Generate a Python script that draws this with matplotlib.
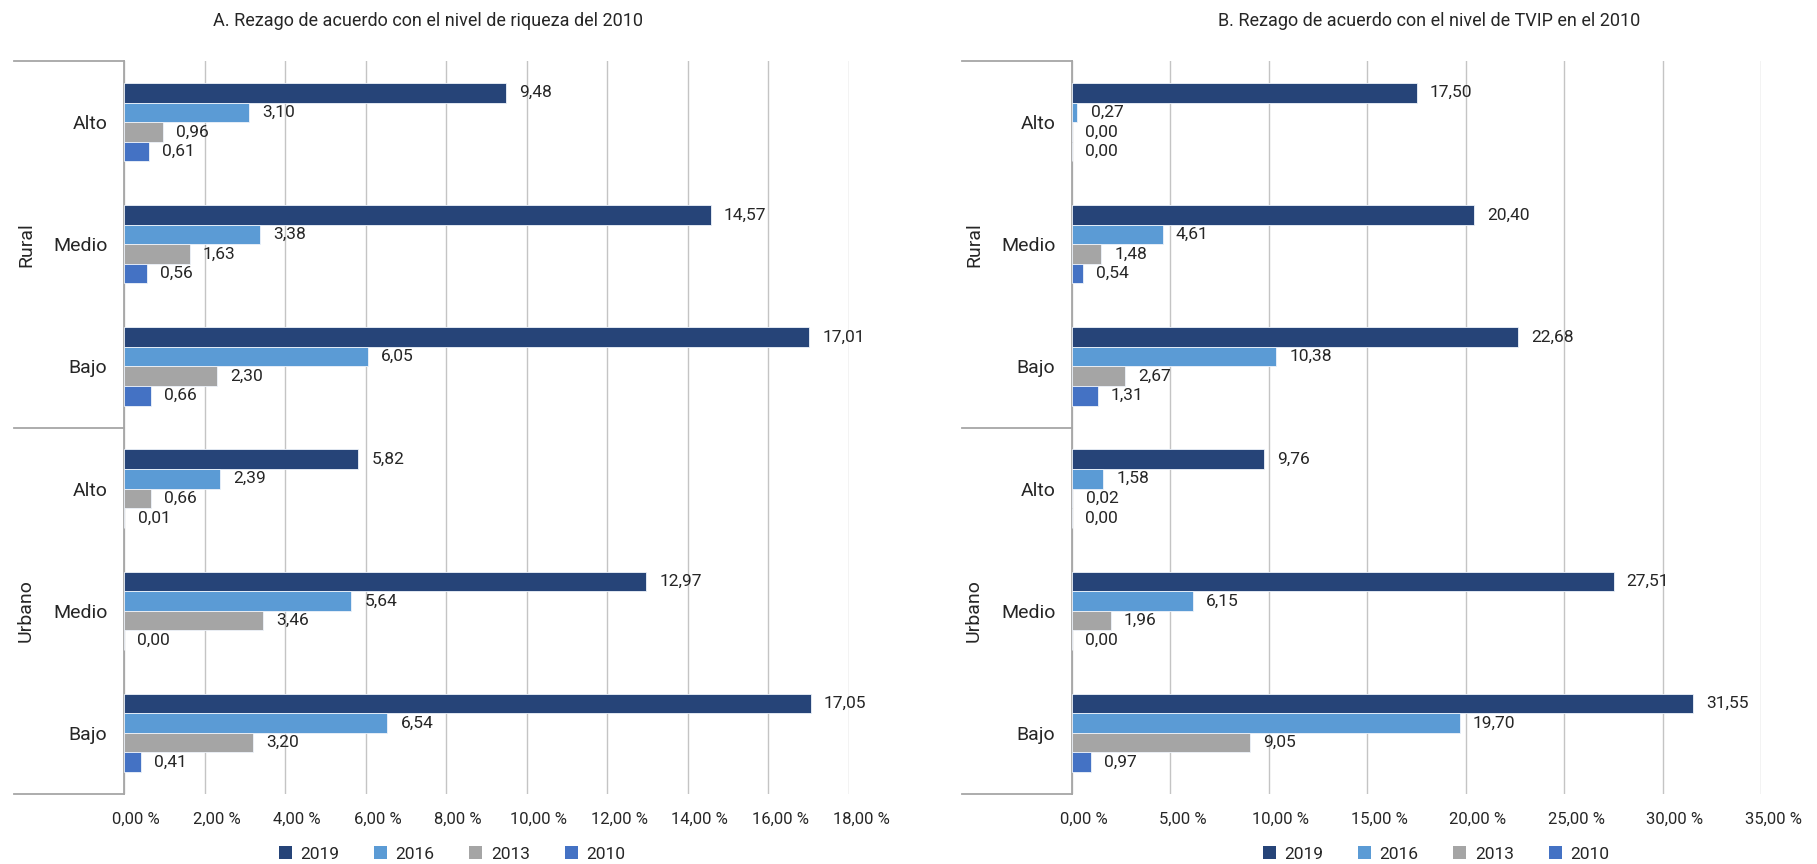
#!/usr/bin/env python3
"""Rezago por zona y nivel: dos paneles de barras horizontales agrupadas."""

import matplotlib

matplotlib.use("Agg")

from matplotlib import pyplot as plt
from matplotlib.patches import Patch
from matplotlib.ticker import FuncFormatter, MultipleLocator
from matplotlib.transforms import ScaledTranslation
import numpy as np

plt.rcParams["font.family"] = ["Roboto", "DejaVu Sans"]

# categorías de arriba hacia abajo
ZONES = ["Rural", "Urbano"]
LEVELS = ["Alto", "Medio", "Bajo"]
YEARS = ["2019", "2016", "2013", "2010"]
YEAR_COLORS = ["#264478", "#5b9bd5", "#a5a5a5", "#4472c4"]

# panel A: nivel de riqueza (filas = Rural Alto..Urbano Bajo)
riqueza_2019 = [9.48, 14.57, 17.01, 5.82, 12.97, 17.05]
riqueza_2016 = [3.10, 3.38, 6.05, 2.39, 5.64, 6.54]
riqueza_2013 = [0.96, 1.63, 2.30, 0.66, 3.46, 3.20]
riqueza_2010 = [0.61, 0.56, 0.66, 0.01, 0.00, 0.41]

# panel B: nivel de TVIP
tvip_2019 = [17.50, 20.40, 22.68, 9.76, 27.51, 31.55]
tvip_2016 = [0.27, 4.61, 10.38, 1.58, 6.15, 19.70]
tvip_2013 = [0.00, 1.48, 2.67, 0.02, 1.96, 9.05]
tvip_2010 = [0.00, 0.54, 1.31, 0.00, 0.00, 0.97]

TITLE_A = "A. Rezago de acuerdo con el nivel de riqueza del 2010"
TITLE_B = "B. Rezago de acuerdo con el nivel de TVIP en el 2010"

W, H = 1817, 864
TEXT = "#262626"
LINE = "#a6a6a6"
GRID = "#c4c4c4"


def comma(value, decimals=2):
    return f"{value:.{decimals}f}".replace(".", ",")


def draw_panel(fig, rect, series, xmax, step, title, title_x, legend_x):
    ax = fig.add_axes(rect)
    n_rows = len(series[0])
    centers = np.arange(n_rows)
    bar_h = 0.16
    offsets = (np.arange(len(series)) - (len(series) - 1) / 2) * bar_h

    for values, off, color in zip(series, offsets, YEAR_COLORS):
        ys = centers + off
        ax.barh(ys, values, height=bar_h, color=color, edgecolor="#eef3fa", linewidth=0.6, zorder=3)
        for y, v in zip(ys, values):
            ax.annotate(comma(v), (v, y), xytext=(9.5, 0), textcoords="offset points",
                        va="center", ha="left", fontsize=12.5, color=TEXT, zorder=4)

    ax.set_xlim(0, xmax)
    ax.set_ylim(n_rows - 0.5, -0.5)
    ax.xaxis.set_major_locator(MultipleLocator(step))
    ax.xaxis.set_major_formatter(FuncFormatter(lambda v, _: comma(v) + " %"))
    ax.grid(axis="x", color=GRID, linewidth=1.0, zorder=0)
    ax.tick_params(axis="x", length=0, pad=13, labelsize=12, labelcolor=TEXT)
    ax.tick_params(axis="y", length=0, pad=12, labelsize=14, labelcolor=TEXT)
    ax.set_yticks(centers)
    ax.set_yticklabels(LEVELS * len(ZONES))
    for spine in ("top", "right", "bottom"):
        ax.spines[spine].set_visible(False)
    ax.spines["left"].set_color(LINE)
    ax.spines["left"].set_linewidth(1.3)

    # desplaza un poco las etiquetas del eje x a la derecha
    shift = ScaledTranslation(12 / 100, 0, fig.dpi_scale_trans)
    for lbl in ax.get_xticklabels():
        lbl.set_transform(lbl.get_transform() + shift)

    # líneas de agrupación y etiquetas de zona a la izquierda
    ax_w_px = rect[2] * W
    reach = -110 / ax_w_px
    trans = ax.get_yaxis_transform()
    for yb in (-0.5, 2.5, 5.5):
        ax.plot([reach, 0], [yb, yb], transform=trans, color=LINE, lw=1.3, clip_on=False)
    for i, zone in enumerate(ZONES):
        ax.text(-98 / ax_w_px, 1 + 3 * i, zone, transform=trans, rotation=90,
                ha="center", va="center", fontsize=14, color=TEXT)

    fig.text(title_x / W, 1 - 21 / H, title, ha="center", va="center", fontsize=13, color=TEXT)

    handles = [Patch(facecolor=c, edgecolor="none") for c in YEAR_COLORS]
    fig.legend(handles, YEARS, loc="center", bbox_to_anchor=(legend_x / W, 1 - 854 / H),
               ncol=4, frameon=False, fontsize=12.5, handlelength=0.75, handleheight=0.75,
               handletextpad=0.5, columnspacing=2.0, labelcolor=TEXT)
    return ax


fig = plt.figure(figsize=(W / 100, H / 100), dpi=100)
fig.patch.set_facecolor("white")

bottom = 1 - 794 / H
height = (794 - 61) / H

draw_panel(fig, [124 / W, bottom, (849 - 124) / W, height],
           [riqueza_2019, riqueza_2016, riqueza_2013, riqueza_2010],
           18, 2, TITLE_A, 428, 452)
draw_panel(fig, [1072 / W, bottom, (1761 - 1072) / W, height],
           [tvip_2019, tvip_2016, tvip_2013, tvip_2010],
           35, 5, TITLE_B, 1429, 1436)

fig.savefig("out.png", dpi=100, facecolor=fig.get_facecolor())
